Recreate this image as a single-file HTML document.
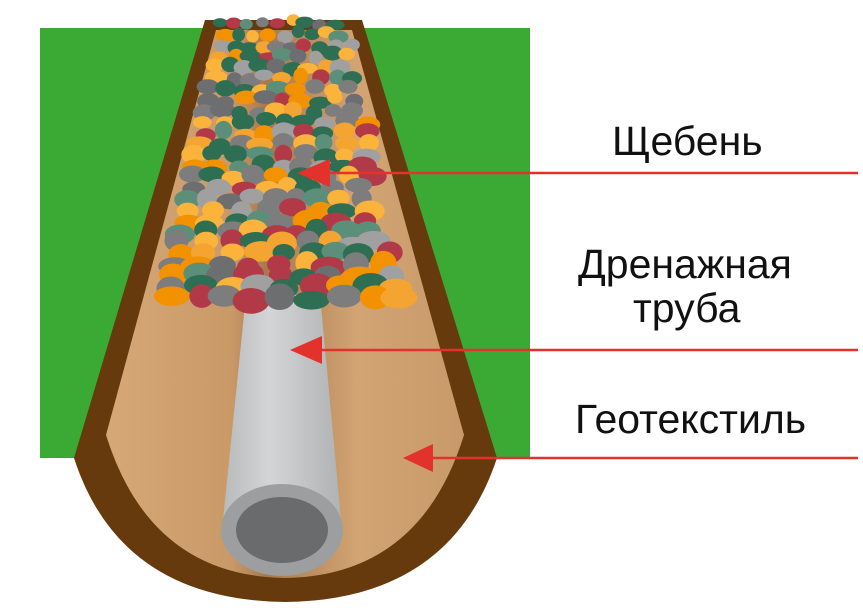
<!DOCTYPE html>
<html><head><meta charset="utf-8"><style>
html,body{margin:0;padding:0;background:#fff;width:863px;height:615px;overflow:hidden}
svg{display:block}
text{font-family:"Liberation Sans",sans-serif;font-size:41px;fill:#111}
</style></head><body>
<svg id="s" width="863" height="615" viewBox="0 0 863 615" xmlns="http://www.w3.org/2000/svg">
<defs>
<linearGradient id="tan" x1="0" x2="1" y1="0" y2="0">
<stop offset="0" stop-color="#d7a877"/><stop offset="0.35" stop-color="#c99a68"/><stop offset="0.45" stop-color="#a8784c"/><stop offset="0.55" stop-color="#b98a5c"/><stop offset="0.7" stop-color="#d2a474"/><stop offset="1" stop-color="#c89a6a"/>
</linearGradient>
<linearGradient id="pipe" x1="0" x2="1"><stop offset="0" stop-color="#b8b9bb"/><stop offset="0.4" stop-color="#d4d5d7"/><stop offset="1" stop-color="#b0b1b3"/></linearGradient>
</defs>
<rect x="40" y="28" width="490" height="430" fill="#3aaa35"/>
<path d="M205 20 L362 20 L497 458 Q450 600 285 602 Q120 600 74 458 Z" fill="#673a0d"/>
<path d="M216 30 L352 30 L464 435 Q420 576 285 578 Q150 576 106 435 Z" fill="url(#tan)"/>
<path d="M246 295 L320 295 L342 530 L222 530 Z" fill="url(#pipe)"/>
<g id="stones"></g>
<ellipse cx="282" cy="530" rx="61" ry="46" fill="#9d9e9f"/>
<ellipse cx="282" cy="530" rx="46" ry="33" fill="#6a6b6c"/>
<g fill="#e3312b" stroke="#e3312b">
<line x1="325" y1="173" x2="858" y2="173" stroke-width="2.5"/>
<polygon points="297,173 330,159 330,187" stroke="none"/>
<line x1="315" y1="350" x2="858" y2="350" stroke-width="2.5"/>
<polygon points="290,350 322,336 322,364" stroke="none"/>
<line x1="425" y1="458" x2="858" y2="458" stroke-width="2.5"/>
<polygon points="403,458 433,444 433,472" stroke="none"/>
</g>
<text x="612" y="155">Щебень</text>
<text x="578" y="278">Дренажная</text>
<text x="633" y="322">труба</text>
<text x="575" y="433">Геотекстиль</text>
</svg>
<script>
(function(){
var g=document.getElementById('stones');var seed=11;
function r(){seed=(seed*16807)%2147483647;return seed/2147483647;}
var cols=['#6d6e70','#2e6e52','#f4a531','#b23a48','#f39200','#a0a0a0','#5c8f7a','#fbb33b','#7d7d7d','#2e6e52','#fbb33b'];
var ns='http://www.w3.org/2000/svg';
for(var y=20;y<296;y+=11){
 var t=(y-20)/280;var s=0.75+t*0.75;
 var l=214-t*62+8*s,rr=356+t*62-8*s;
 for(var x=l+r()*8;x<rr;x+=(15+r()*8)*s){
  var e=document.createElementNS(ns,'ellipse');
  e.setAttribute('cx',x);e.setAttribute('cy',y+r()*6);
  e.setAttribute('rx',(8+r()*5)*s);e.setAttribute('ry',(6+r()*3)*s);
  e.setAttribute('fill',cols[Math.floor(r()*cols.length)]);
  g.appendChild(e);
 }
}
})();
</script>
</body></html>
